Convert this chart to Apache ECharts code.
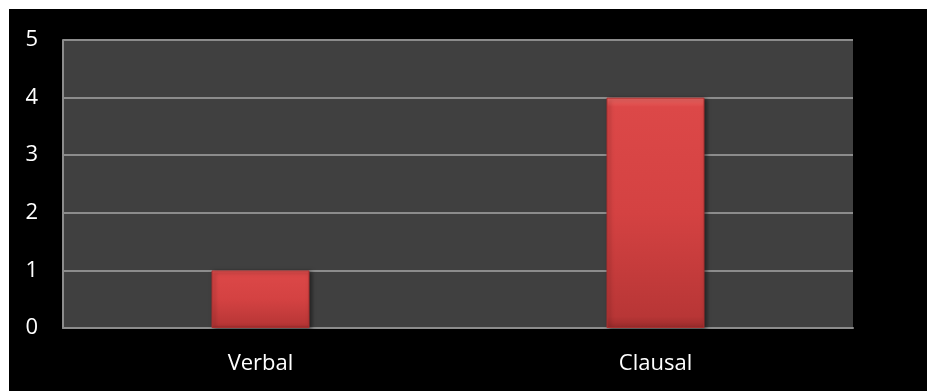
<!DOCTYPE html>
<html lang="en">
<head>
  <meta charset="UTF-8">
  <title>Verbal vs Clausal</title>
  <script src="https://cdn.jsdelivr.net/npm/echarts@6/dist/echarts.min.js"></script>
  <style>
    html, body { margin: 0; padding: 0; background: #ffffff; }
    #chart { position: absolute; left: 9px; top: 9px; width: 918px; height: 382px; }
  </style>
</head>
<body>
<div id="chart"></div>
<script>
  var categories = ['Verbal', 'Clausal']
  var counts = [1, 4]
  var yTicks = [0, 1, 2, 3, 4, 5]

  var myChart = echarts.init(document.getElementById('chart'), null, { renderer: 'canvas' })

  var barFill = new echarts.graphic.LinearGradient(0, 0, 0, 1, [
    { offset: 0, color: '#f06a66' },
    { offset: 0.04, color: '#dc4848' },
    { offset: 0.5, color: '#d44242' },
    { offset: 0.95, color: '#b83636' },
    { offset: 1, color: '#9c2c2c' }
  ])

  var option = {
    backgroundColor: '#000000',
    textStyle: { fontFamily: 'Open Sans' },
    grid: {
      left: 54, right: 74, top: 31, bottom: 63,
      show: true, backgroundColor: '#404040', borderWidth: 0
    },
    xAxis: {
      type: 'category',
      data: categories,
      axisLine: { lineStyle: { color: '#8c8c8c', width: 2 } },
      axisTick: { show: false },
      axisLabel: { color: '#ffffff', fontSize: 22, margin: 25 }
    },
    yAxis: {
      type: 'value',
      min: yTicks[0],
      max: yTicks[yTicks.length - 1],
      interval: 1,
      axisLine: { show: true, lineStyle: { color: '#8c8c8c', width: 2 } },
      axisTick: { show: false },
      splitLine: { lineStyle: { color: '#8c8c8c', width: 2 } },
      axisLabel: { color: '#ffffff', fontSize: 22, margin: 25 }
    },
    series: [{
      type: 'bar',
      data: counts,
      barWidth: 98,
      itemStyle: {
        color: barFill,
        borderColor: '#a83030',
        borderWidth: 1,
        shadowColor: 'rgba(0,0,0,0.5)',
        shadowBlur: 4,
        shadowOffsetX: 2,
        shadowOffsetY: 1
      },
      emphasis: { disabled: true }
    }],
    animation: false
  }

  myChart.setOption(option)
  window.addEventListener('resize', myChart.resize)
</script>
</body>
</html>
